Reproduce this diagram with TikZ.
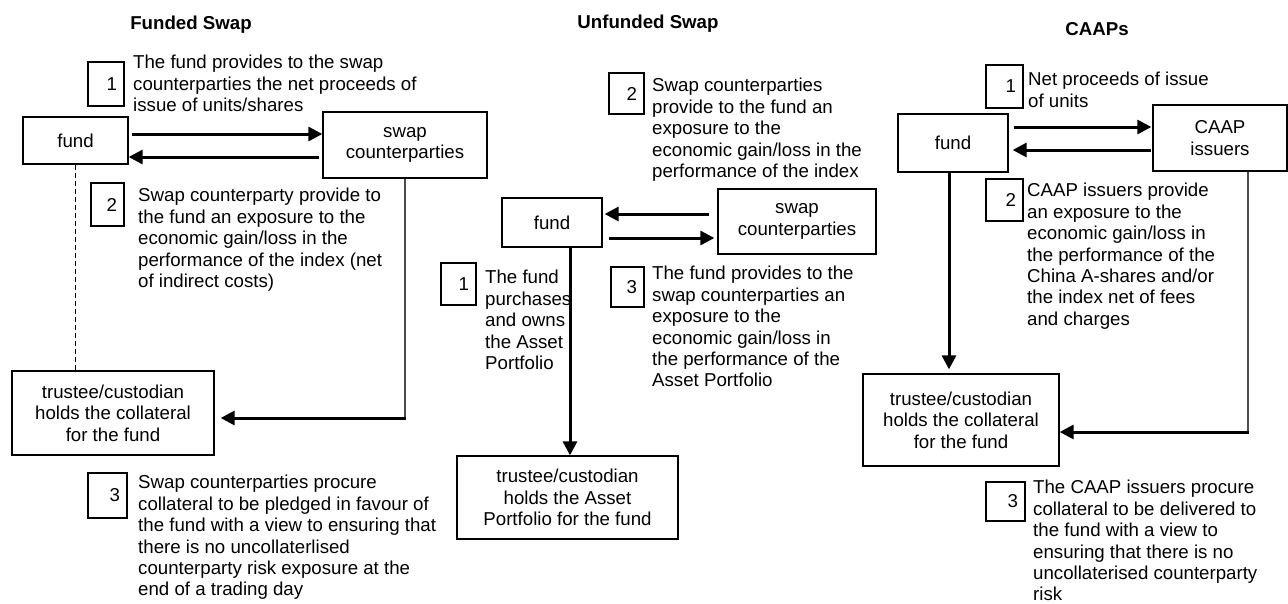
\documentclass[tikz,border=0pt]{standalone}
\usepackage{fontspec}
\setmainfont{Liberation Sans}
\usetikzlibrary{arrows.meta}
\newcommand\lnstrut{\rule{0pt}{15pt}}
\begin{document}
\begin{tikzpicture}[x=1pt,y=-1pt,
  every node/.style={font=\fontsize{18.67}{21.4}\selectfont},
  box/.style={draw, line width=1.3pt, inner sep=0pt, align=center},
  numbox/.style={draw, line width=1.3pt, inner xsep=7pt, inner ysep=0pt, align=right},
  txt/.style={anchor=north west, inner sep=0pt, align=left},
  ttl/.style={font=\fontsize{18.67}{21.4}\selectfont\bfseries, inner sep=0pt},
  flow/.style={line width=3pt, -{Triangle[length=14pt,width=14pt]}},
  feed/.style={line width=1.6pt, black!70},
]
\useasboundingbox (0,0) rectangle (1288,603);

% ---------------- Funded Swap ----------------
\node[ttl] (tL) at (191,25) {Funded Swap};
\node[box, minimum width=105pt, minimum height=47pt] (fundL) at (75.5,140.5) {fund};
\node[box, minimum width=164pt, minimum height=66pt] (swapL) at (405,145) {swap\\counterparties};
\node[box, minimum width=202pt, minimum height=84pt] (trusteeL) at (113,413) {trustee/custodian\\holds the collateral\\for the fund};
\node[numbox, text width=22pt, minimum height=44pt] (n1L) at (106,84) {1};
\node[numbox, text width=19pt, minimum height=43pt] (n2L) at (107.5,204.5) {2};
\node[numbox, text width=25pt, minimum height=45pt] (n3L) at (107.5,495.5) {3};
\node[txt] (x1L) at (133,53.6) {\lnstrut The fund provides to the swap\\counterparties the net proceeds of\\issue of units/shares};
\node[txt] (x2L) at (138,186.6) {\lnstrut Swap counterparty provide to\\the fund an exposure to the\\economic gain/loss in the\\performance of the index (net\\of indirect costs)};
\node[txt] (x3L) at (138,473.6) {\lnstrut Swap counterparties procure\\collateral to be pledged in favour of\\the fund with a view to ensuring that\\there is no uncollaterlised\\counterparty risk exposure at the\\end of a trading day};
\draw[flow, shorten <=3pt] (fundL.east |- 0,134) -- (swapL.west |- 0,134);
\draw[flow, shorten <=3pt] (swapL.west |- 0,157) -- (fundL.east |- 0,157);
\draw[line width=1pt, dash pattern=on 5pt off 3pt] (fundL.south) -- (trusteeL.north -| fundL.south);
\coordinate (cL) at (swapL.south |- 0,418);
\draw[feed] (swapL.south) -- (cL);
\draw[flow, shorten >=6pt] ([xshift=0.8pt]cL) -- (trusteeL.east |- cL);

% ---------------- Unfunded Swap ----------------
\node[ttl] (tM) at (648,24) {Unfunded Swap};
\node[box, minimum width=100pt, minimum height=49pt] (fundM) at (552,222.5) {fund};
\node[box, minimum width=158pt, minimum height=65pt] (swapM) at (797,221.5) {swap\\counterparties};
\node[box, minimum width=221pt, minimum height=83pt] (trusteeM) at (567.5,497.5) {trustee/custodian\\holds the Asset\\Portfolio for the fund};
\node[numbox, text width=21pt, minimum height=42pt] (n1M) at (458.5,284) {1};
\node[numbox, text width=21pt, minimum height=41pt] (n2M) at (626.5,93.5) {2};
\node[numbox, text width=19pt, minimum height=40pt] (n3M) at (627.5,287) {3};
\node[txt] (x1M) at (485,268.6) {\lnstrut The fund\\purchases\\and owns\\the Asset\\Portfolio};
\node[txt] (x2M) at (652,76.6) {\lnstrut Swap counterparties\\provide to the fund an\\exposure to the\\economic gain/loss in the\\performance of the index};
\node[txt] (x3M) at (652,264.6) {\lnstrut The fund provides to the\\swap counterparties an\\exposure to the\\economic gain/loss in\\the performance of the\\Asset Portfolio};
\draw[flow, shorten <=8pt, shorten >=2pt] (swapM.west |- 0,214) -- (fundM.east |- 0,214);
\draw[flow, shorten <=6pt, shorten >=3pt] (fundM.east |- 0,238) -- (swapM.west |- 0,238);
\draw[flow] ([xshift=2.5pt]trusteeM.north |- fundM.south) -- ([xshift=2.5pt]trusteeM.north);

% ---------------- CAAPs ----------------
\node[ttl] (tR) at (1097,29) {CAAPs};
\node[box, minimum width=110pt, minimum height=58pt] (fundR) at (953,143) {fund};
\node[box, minimum width=134pt, minimum height=66pt] (caapR) at (1220,138) {CAAP\\issuers};
\node[box, minimum width=196pt, minimum height=92pt] (trusteeR) at (961,420) {trustee/custodian\\holds the collateral\\for the fund};
\node[numbox, text width=23pt, minimum height=43pt] (n1R) at (1004.5,86.5) {1};
\node[numbox, text width=23pt, minimum height=42pt] (n2R) at (1004.5,200) {2};
\node[numbox, text width=25pt, minimum height=39pt] (n3R) at (1005.5,501.5) {3};
\node[txt] (x1R) at (1028,70.6) {\lnstrut Net proceeds of issue\\of units};
\node[txt] (x2R) at (1027,181.6) {\lnstrut CAAP issuers provide\\an exposure to the\\economic gain/loss in\\the performance of the\\China A-shares and/or\\the index net of fees\\and charges};
\node[txt] (x3R) at (1033,478.6) {\lnstrut The CAAP issuers procure\\collateral to be delivered to\\the fund with a view to\\ensuring that there is no\\uncollaterised counterparty\\risk};
\draw[flow, shorten <=5pt, shorten >=1pt] (fundR.east |- 0,127) -- (caapR.west |- 0,127);
\draw[flow, shorten <=1pt, shorten >=4pt] (caapR.west |- 0,150) -- (fundR.east |- 0,150);
\draw[flow, shorten >=4pt] ([xshift=-4pt]fundR.south) -- ([xshift=-4pt]fundR.south |- trusteeR.north);
\coordinate (cR) at ([xshift=28pt]caapR.south |- 0,432);
\draw[feed] ([xshift=28pt]caapR.south) -- (cR);
\draw[flow] ([xshift=0.8pt]cR) -- (trusteeR.east |- cR);
\end{tikzpicture}
\end{document}
